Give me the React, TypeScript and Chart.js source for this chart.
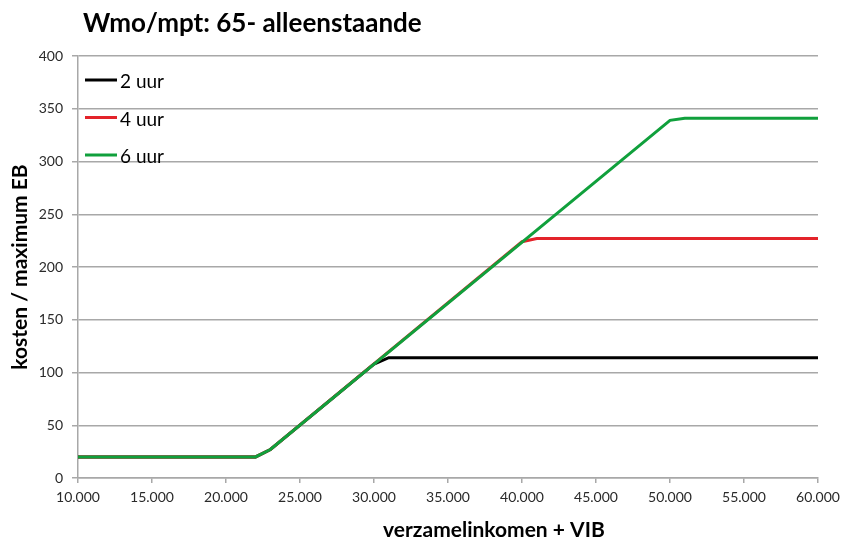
import React, { useEffect, useRef } from "react";
import { Chart, registerables } from "chart.js";

Chart.register(...registerables);

// ---- data ----
const incomeBlack = [10000, 22000, 23000, 30000, 31000, 60000];
const costBlack = [20, 20, 27, 108, 114, 114];
const incomeRed = [10000, 22000, 23000, 40000, 41000, 60000];
const costRed = [20, 20, 27, 224, 227, 227];
const incomeGreen = [10000, 22000, 23000, 50000, 51000, 60000];
const costGreen = [20, 20, 27, 339, 341, 341];

const seriesLabels = ["2 uur", "4 uur", "6 uur"];
const seriesColors = ["#000000", "#e3232a", "#10a03c"];

const xMin = 10000;
const xMax = 60000;
const xStep = 5000;
const yMin = 0;
const yMax = 400;
const yStep = 50;

const chartTitle = "Wmo/mpt: 65- alleenstaande";
const xTitle = "verzamelinkomen + VIB";
const yTitle = "kosten / maximum EB";

const FONT = "Lato, 'Open Sans', sans-serif";

function formatThousands(v: number): string {
  const s = Math.round(v).toString();
  return s.replace(/\B(?=(\d{3})+(?!\d))/g, ".");
}

function toPoints(xs: number[], ys: number[]) {
  return xs.map((x, i) => ({ x, y: ys[i] }));
}

const overlayPlugin = {
  id: "overlay",
  afterDraw(chart: any) {
    const { ctx, chartArea } = chart;
    ctx.save();
    ctx.fillStyle = "#000";
    ctx.textAlign = "left";
    ctx.textBaseline = "alphabetic";
    // title
    ctx.font = `bold 26px ${FONT}`;
    ctx.fillText(chartTitle, chartArea.left + 5, 32);
    // x title
    ctx.font = `bold 21px ${FONT}`;
    ctx.textAlign = "center";
    ctx.fillText(xTitle, chartArea.left + chartArea.width * 0.562, 537);
    // legend
    ctx.textAlign = "left";
    ctx.font = `19px ${FONT}`;
    chart.data.datasets.forEach((ds: any, i: number) => {
      const y = chartArea.top + 24 + i * 37.5;
      ctx.strokeStyle = ds.borderColor;
      ctx.lineWidth = 3;
      ctx.beginPath();
      ctx.moveTo(chartArea.left + 7, y);
      ctx.lineTo(chartArea.left + 39, y);
      ctx.stroke();
      ctx.fillStyle = "#000";
      ctx.fillText(ds.label, chartArea.left + 42, y + 8);
    });
    ctx.restore();
  },
};

export default function App() {
  const canvasRef = useRef<HTMLCanvasElement | null>(null);

  useEffect(() => {
    document.body.style.margin = "0";
    const canvas = canvasRef.current;
    if (!canvas) return;
    const gridColor = "#a8a8a8";
    const chart = new Chart(canvas, {
      type: "line",
      data: {
        datasets: [
          {
            label: seriesLabels[0],
            data: toPoints(incomeBlack, costBlack),
            borderColor: seriesColors[0],
            backgroundColor: seriesColors[0],
            borderWidth: 3,
            pointRadius: 0,
            tension: 0,
            order: 3,
          },
          {
            label: seriesLabels[1],
            data: toPoints(incomeRed, costRed),
            borderColor: seriesColors[1],
            backgroundColor: seriesColors[1],
            borderWidth: 3,
            pointRadius: 0,
            tension: 0,
            order: 2,
          },
          {
            label: seriesLabels[2],
            data: toPoints(incomeGreen, costGreen),
            borderColor: seriesColors[2],
            backgroundColor: seriesColors[2],
            borderWidth: 3,
            pointRadius: 0,
            tension: 0,
            order: 1,
          },
        ],
      },
      options: {
        responsive: false,
        animation: false,
        layout: { padding: { top: 56, right: 37, left: 0, bottom: 0 } },
        plugins: {
          legend: { display: false },
          title: { display: false },
          tooltip: { enabled: false },
        },
        scales: {
          x: {
            type: "linear",
            min: xMin,
            max: xMax,
            ticks: {
              stepSize: xStep,
              callback: (v: any) => formatThousands(Number(v)),
              font: { family: FONT, size: 14 },
              color: "#2a2a2a",
              padding: 6,
              maxRotation: 0,
            },
            grid: {
              drawOnChartArea: false,
              drawTicks: true,
              tickLength: 5,
              color: gridColor,
              lineWidth: 1.5,
            },
            border: { color: gridColor, width: 1.5 },
            afterFit: (scale: any) => {
              scale.height = 62;
            },
          },
          y: {
            min: yMin,
            max: yMax,
            ticks: {
              stepSize: yStep,
              font: { family: FONT, size: 14 },
              color: "#2a2a2a",
              padding: 9,
            },
            grid: {
              color: gridColor,
              lineWidth: 1.5,
              drawTicks: true,
              tickLength: 6,
            },
            border: { color: gridColor, width: 1.5 },
            title: {
              display: true,
              text: yTitle,
              font: { family: FONT, size: 21, weight: "bold" },
              color: "#000",
              padding: { top: 8, bottom: 0 },
            },
            afterFit: (scale: any) => {
              scale.width = 78;
            },
          },
        },
      },
      plugins: [overlayPlugin],
    } as any);
    return () => chart.destroy();
  }, []);

  return (
    <div style={{ width: 855, height: 540, position: "relative" }}>
      <canvas ref={canvasRef} width={855} height={540} style={{ display: "block" }} />
    </div>
  );
}
